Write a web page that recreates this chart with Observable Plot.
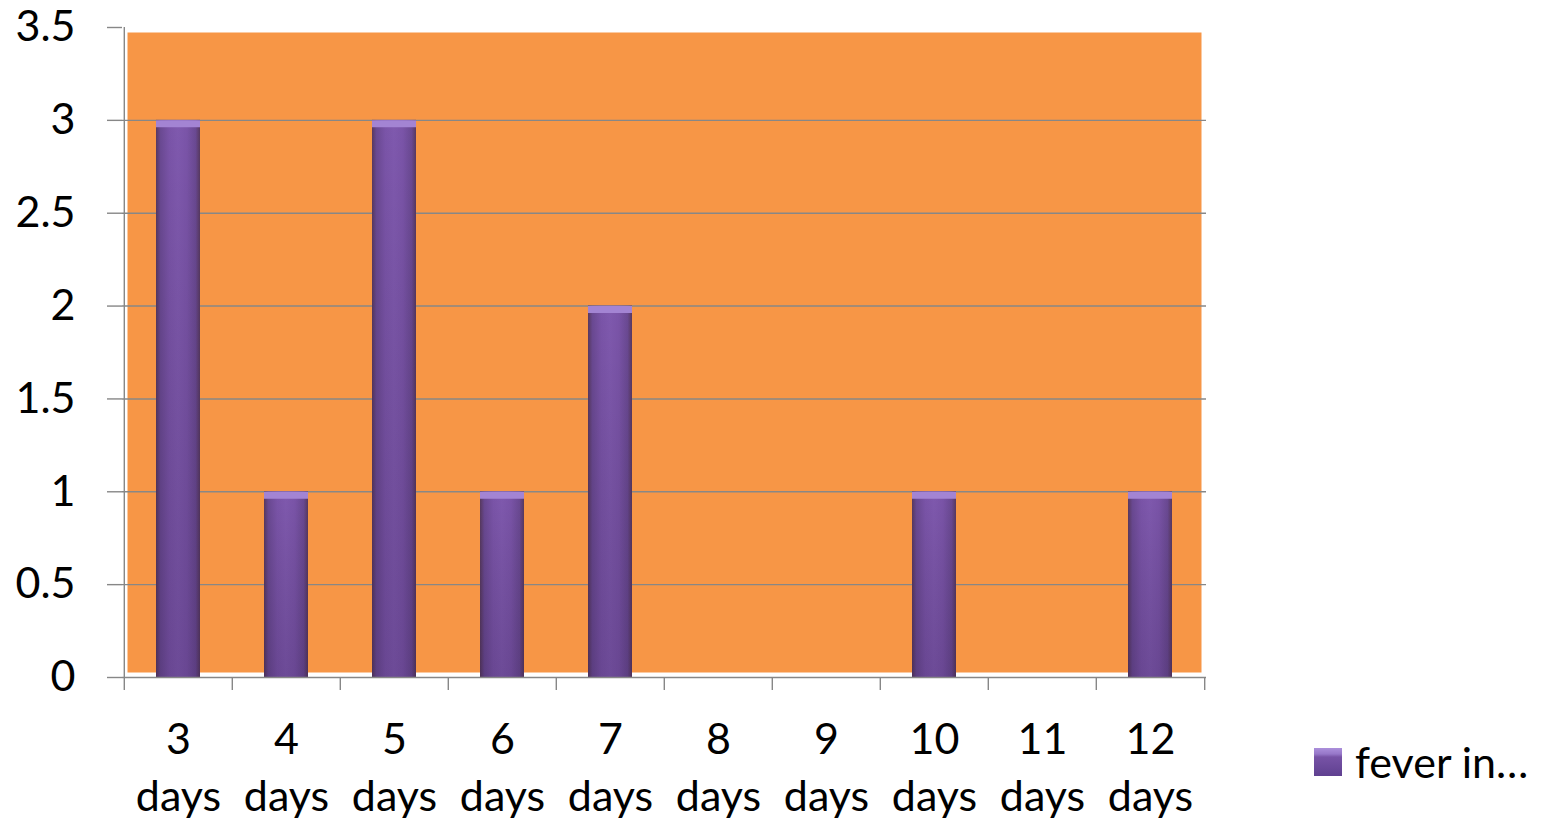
<!DOCTYPE html>
<html>
<head>
<meta charset="utf-8">
<script src="https://cdn.jsdelivr.net/npm/d3@7"></script>
<script src="https://cdn.jsdelivr.net/npm/@observablehq/plot@0.6"></script>
<style>
  html, body { margin: 0; padding: 0; background: #fff; }
  #wrap { position: relative; width: 1547px; height: 823px; font-family: Lato, "Open Sans", sans-serif; }
  #legend { position: absolute; left: 1314px; top: 736px; display: flex; align-items: center; font-size: 43px; color: #000; }
  #legend .sw { width: 28px; height: 28px; margin-right: 13px; background: linear-gradient(to bottom, #ab8fdb 0, #9677c8 6px, #7753a6 9px, #5f4090 100%); }
</style>
</head>
<body>
<div id="wrap">
  <div id="chart"></div>
  <div id="legend"><span class="sw"></span><span>fever in…</span></div>
</div>
<script>
// Number of patients by fever duration
const days = ["3 days", "4 days", "5 days", "6 days", "7 days", "8 days", "9 days", "10 days", "11 days", "12 days"];
const counts = [3, 1, 3, 1, 2, 0, 0, 1, 0, 1];
const yTicks = [0, 0.5, 1, 1.5, 2, 2.5, 3, 3.5];
const gridTicks = [0.5, 1, 1.5, 2, 2.5, 3];

const rows = days.map((day, i) => ({day, count: counts[i]}));

const W = 1547, H = 823;
const mLeft = 122, mRight = 341, mTop = 27, mBottom = 146;
const step = (W - mLeft - mRight) / days.length;
const axisGray = "#878787";
const fontSize = 43;

const chart = Plot.plot({
  width: W,
  height: H,
  marginLeft: mLeft,
  marginRight: mRight,
  marginTop: mTop,
  marginBottom: mBottom,
  style: {fontFamily: "Lato, 'Open Sans', sans-serif", fontSize: `${fontSize}px`, color: "#000", background: "#fff", overflow: "visible"},
  x: {domain: days, paddingInner: 0.59, paddingOuter: 0.295, axis: null, label: null},
  y: {domain: [0, 3.5], axis: null, label: null},
  marks: [
    Plot.frame({fill: "#f79646", stroke: null, inset: 5}),
    Plot.gridY(gridTicks, {stroke: axisGray, strokeOpacity: 1, strokeWidth: 1.4}),
    Plot.barY(rows, {x: "day", y: "count", fill: "url(#barFill)"}),
    // soft darkening toward the base of each bar
    Plot.barY(rows, {x: "day", y: "count", fill: "url(#barShade)"}),
    // light bevel along each bar top
    Plot.tickY(rows.filter(d => d.count > 0), {x: "day", y: "count", stroke: "#a384d3", strokeWidth: 7, dy: 3.5}),
    // axis lines
    Plot.ruleY([0], {stroke: axisGray, strokeWidth: 1.4}),
    Plot.ruleX([days[0]], {y1: 0, y2: 3.5, dx: -step / 2, stroke: axisGray, strokeWidth: 1.4}),
    // y axis ticks and labels
    Plot.axisY(yTicks, {label: null, tickSize: 15, tickPadding: 32, stroke: axisGray, strokeWidth: 1.4, fill: "#000", fontSize, tickFormat: d => String(d)}),
    // x axis ticks on category boundaries
    Plot.axisX({label: null, tickSize: 13, dx: -step / 2, stroke: axisGray, strokeWidth: 1.4, tickFormat: () => ""}),
    Plot.axisX([days[days.length - 1]], {label: null, tickSize: 13, dx: step / 2, stroke: axisGray, strokeWidth: 1.4, tickFormat: () => ""}),
    // x labels, number above "days"
    Plot.axisX({label: null, tickSize: 0, tickPadding: 36, fill: "#000", fontSize, lineHeight: 1.33, tickFormat: d => d.replace(" ", "\n")})
  ]
});

// bar shading
const ns = "http://www.w3.org/2000/svg";
const defs = document.createElementNS(ns, "defs");
defs.innerHTML = `
  <linearGradient id="barFill" x1="0" x2="1" y1="0" y2="0">
    <stop offset="0" stop-color="#58395f"/>
    <stop offset="0.1" stop-color="#6a4992"/>
    <stop offset="0.3" stop-color="#7a54a8"/>
    <stop offset="0.5" stop-color="#7f59ae"/>
    <stop offset="0.7" stop-color="#7a54a8"/>
    <stop offset="0.9" stop-color="#6a4992"/>
    <stop offset="1" stop-color="#58395f"/>
  </linearGradient>
  <linearGradient id="barShade" x1="0" x2="0" y1="0" y2="1">
    <stop offset="0" stop-color="#000" stop-opacity="0"/>
    <stop offset="1" stop-color="#1a0a30" stop-opacity="0.18"/>
  </linearGradient>`;
chart.insertBefore(defs, chart.firstChild);

document.getElementById("chart").appendChild(chart);
</script>
</body>
</html>
